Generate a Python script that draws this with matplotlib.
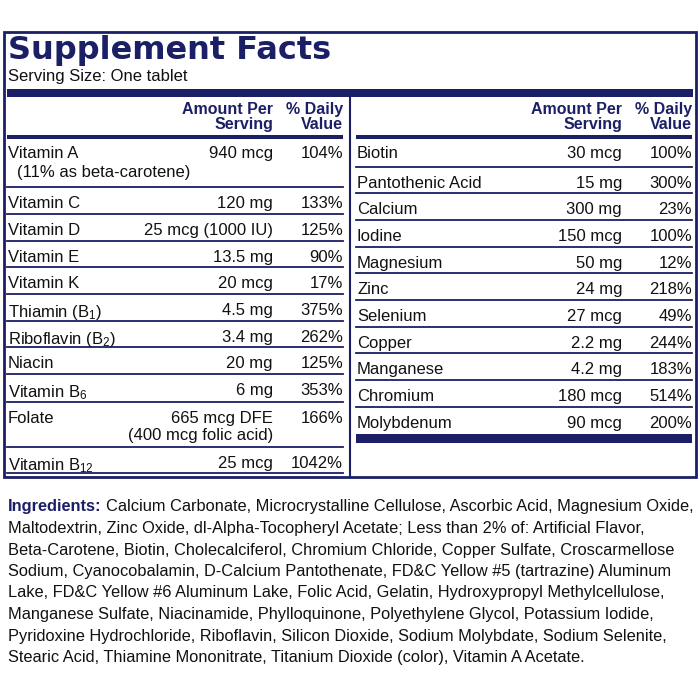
import matplotlib
matplotlib.use("Agg")
import matplotlib.pyplot as plt

NAVY = "#1b1f66"
FONT = "Liberation Sans"
plt.rcParams["mathtext.fontset"] = "custom"
plt.rcParams["mathtext.rm"] = FONT
plt.rcParams["mathtext.it"] = FONT

# left table
left_names = ["Vitamin A", "Vitamin C", "Vitamin D", "Vitamin E", "Vitamin K",
              "Thiamin (B$_1$)", "Riboflavin (B$_2$)", "Niacin", "Vitamin B$_6$",
              "Folate", "Vitamin B$_{12}$"]
left_notes = ["(11% as beta-carotene)", "", "", "", "", "", "", "", "", "", ""]
left_amounts = ["940 mcg", "120 mg", "25 mcg (1000 IU)", "13.5 mg", "20 mcg", "4.5 mg", "3.4 mg",
                "20 mg", "6 mg", "665 mcg DFE\n(400 mcg folic acid)", "25 mcg"]
left_dv = ["104%", "133%", "125%", "90%", "17%", "375%", "262%", "125%", "353%", "166%", "1042%"]
left_lines = [137, 187, 214, 241, 267, 294, 321, 347, 374, 402, 447, 473]

# right table
right_names = ["Biotin", "Pantothenic Acid", "Calcium", "Iodine", "Magnesium", "Zinc", "Selenium",
               "Copper", "Manganese", "Chromium", "Molybdenum"]
right_notes = [""] * 11
right_amounts = ["30 mcg", "15 mg", "300 mg", "150 mcg", "50 mg", "24 mg", "27 mcg", "2.2 mg",
                 "4.2 mg", "180 mcg", "90 mcg"]
right_dv = ["100%", "300%", "23%", "100%", "12%", "218%", "49%", "244%", "183%", "514%", "200%"]
right_lines = [137, 167, 193, 220, 247, 273, 300, 327, 353, 380, 407]

ingredients = [
    "Calcium Carbonate, Microcrystalline Cellulose, Ascorbic Acid, Magnesium Oxide,",
    "Maltodextrin, Zinc Oxide, dl-Alpha-Tocopheryl Acetate; Less than 2% of: Artificial Flavor,",
    "Beta-Carotene, Biotin, Cholecalciferol, Chromium Chloride, Copper Sulfate, Croscarmellose",
    "Sodium, Cyanocobalamin, D-Calcium Pantothenate, FD&C Yellow #5 (tartrazine) Aluminum",
    "Lake, FD&C Yellow #6 Aluminum Lake, Folic Acid, Gelatin, Hydroxypropyl Methylcellulose,",
    "Manganese Sulfate, Niacinamide, Phylloquinone, Polyethylene Glycol, Potassium Iodide,",
    "Pyridoxine Hydrochloride, Riboflavin, Silicon Dioxide, Sodium Molybdate, Sodium Selenite,",
    "Stearic Acid, Thiamine Mononitrate, Titanium Dioxide (color), Vitamin A Acetate.",
]

fig = plt.figure(figsize=(7, 7), dpi=100)
ax = fig.add_axes([0, 0, 1, 1])
ax.set_xlim(0, 700)
ax.set_ylim(700, 0)
ax.axis("off")

# outer box and bars
ax.add_patch(plt.Rectangle((4, 32), 692, 445, fill=False, ec=NAVY, lw=2))
ax.add_patch(plt.Rectangle((7, 89), 686, 8, color=NAVY, lw=0))
ax.plot([350, 350], [97, 477], color=NAVY, lw=1.5)

ax.text(8, 50, "Supplement Facts", fontsize=23, fontweight="heavy", color=NAVY,
        va="center", ha="left", family="DejaVu Sans")
ax.text(8, 76, "Serving Size: One tablet", fontsize=12, color="#111", va="center", family=FONT)

kw = dict(fontsize=12, color="#111", family=FONT, va="top", linespacing=1.15)
hkw = dict(fontsize=11.5, color=NAVY, family=FONT, fontweight="bold", va="center",
           ha="right", linespacing=0.95)


def draw_table(x0, x1, amt_x, names, notes, amounts, dvs, lines):
    ax.text(amt_x, 117, "Amount Per\nServing", **hkw)
    ax.text(x1, 117, "% Daily\nValue", **hkw)
    ax.add_patch(plt.Rectangle((x0, lines[0] - 2), x1 - x0, 4, color=NAVY, lw=0))
    for y in lines[1:]:
        ax.plot([x0, x1], [y, y], color=NAVY, lw=1.3)
    for i in range(len(names)):
        top = lines[i] + 9
        ax.text(x0 + 1, top, names[i], ha="left", **kw)
        if notes[i]:
            ax.text(x0 + 10, top + 19, notes[i], ha="left", **kw)
        ax.text(amt_x, top, amounts[i], ha="right", multialignment="right", **kw)
        ax.text(x1, top, dvs[i], ha="right", **kw)


draw_table(7, 343, 273, left_names, left_notes, left_amounts, left_dv, left_lines)
draw_table(356, 692, 622, right_names, right_notes, right_amounts, right_dv, right_lines)
ax.add_patch(plt.Rectangle((356, 434), 336, 9, color=NAVY, lw=0))

# ingredients: pick one font size so the longest line fits the box width
fig.canvas.draw()
r = fig.canvas.get_renderer()
inv = ax.transData.inverted()


def width_px(t):
    bb = t.get_window_extent(r)
    return bb.x1 - bb.x0


base = 12.0
lab = ax.text(8, 507, "Ingredients:", fontweight="bold", fontsize=base, color=NAVY,
              family=FONT, va="center", ha="left")
widths = []
for i, line in enumerate(ingredients):
    t = ax.text(0, 0, line, fontsize=base, family=FONT)
    w = width_px(t) + (width_px(lab) + 4 if i == 0 else 0)
    widths.append(w)
    t.remove()
size = base * 684 / max(widths)
lab.set_fontsize(size)
fig.canvas.draw()
x_after = inv.transform((lab.get_window_extent(r).x1 + 4, 0))[0]
for i, line in enumerate(ingredients):
    ax.text(x_after if i == 0 else 8, 507 + i * 21.5, line, fontsize=size, color="#111",
            family=FONT, va="center", ha="left")

fig.savefig("out.png", dpi=100)
